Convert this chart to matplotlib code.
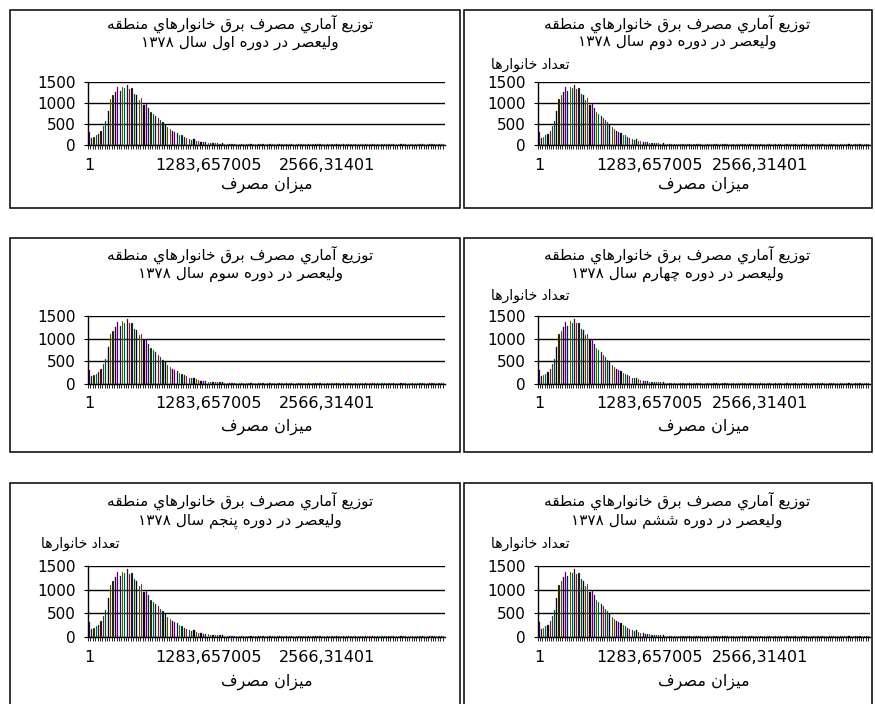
import unicodedata
import numpy as np
import matplotlib
matplotlib.use('Agg')
import matplotlib.pyplot as plt
from matplotlib.patches import Rectangle

# household counts per consumption bin (same shape in every period)
counts = [
    310, 170, 200, 230, 260, 340, 450, 560, 820, 1100,
    1180, 1260, 1370, 1290, 1380, 1350, 1440, 1340, 1350, 1220,
    1190, 1080, 1110, 960, 970, 880, 790, 740, 700, 650,
    600, 540, 480, 430, 380, 340, 310, 290, 250, 230,
    200, 170, 140, 130, 140, 100, 90, 75, 70, 60,
    55, 50, 45, 45, 40, 35, 38, 30, 28, 30,
    25, 27, 22, 24, 20, 26, 18, 22, 19, 23,
    17, 21, 15, 20, 18, 16, 22, 14, 19, 17,
    15, 21, 13, 18, 16, 20, 14, 17, 19, 12,
    18, 15, 20, 13, 17, 16, 19, 12, 18, 14,
    21, 15, 13, 19, 16, 18, 12, 20, 15, 17,
    14, 19, 13, 18, 16, 12, 20, 15, 17, 13,
    19, 14, 16, 18, 12, 17, 15, 20, 13, 16,
    18, 14, 19, 12, 17, 15, 13, 18, 16, 14,
    20, 13, 17, 15, 19, 12, 16, 18, 14, 17,
]
bin_start = 1
bin_width = 25.6531401
label_every = 50
yticks = [0, 500, 1000, 1500]

title_line1 = 'توزيع آماري مصرف برق خانوارهاي منطقه'
periods = ['اول', 'دوم', 'سوم', 'چهارم', 'پنجم', 'ششم']
year = '۱۳۷۸'
ylabel_text = 'تعداد خانوارها'
xlabel_text = 'ميزان مصرف'
show_ylabel = [False, True, False, True, True, True]

bar_colors = ['#FF00FF', '#0066CC', '#FFFF00', '#00FFFF', '#993366', '#FF8080',
              '#9999FF', '#33CC33', '#000080', '#FFCC00', '#CCCCFF', '#660066']


# --- tiny arabic shaper (matplotlib has no complex text layout) ---
forms = {}
for cp in list(range(0xFB50, 0xFDFF)) + list(range(0xFE70, 0xFEFF)):
    d = unicodedata.decomposition(chr(cp))
    if not d.startswith('<'):
        continue
    tag, rest = d.split(' ', 1)
    parts = rest.split()
    if len(parts) != 1:
        continue
    base = chr(int(parts[0], 16))
    forms.setdefault(base, {}).setdefault(tag, chr(cp))


def joins_next(c):
    f = forms.get(c, {})
    return '<initial>' in f or '<medial>' in f


def joins_prev(c):
    return '<final>' in forms.get(c, {})


def fa(text):
    out = []
    for i, c in enumerate(text):
        if c not in forms:
            out.append(c)
            continue
        p = i > 0 and joins_next(text[i-1]) and joins_prev(c)
        n = i < len(text)-1 and joins_next(c) and joins_prev(text[i+1])
        f = forms[c]
        if p and n:
            tag = '<medial>'
        elif p:
            tag = '<final>'
        elif n:
            tag = '<initial>'
        else:
            tag = '<isolated>'
        out.append(f.get(tag, f.get('<isolated>', c)))
    s = ''.join(out)[::-1]
    # keep digit runs left-to-right
    res, run = [], []
    for c in s:
        if c.isdigit():
            run.append(c)
        else:
            res.extend(run[::-1]); run = []
            res.append(c)
    res.extend(run[::-1])
    return ''.join(res)


def cat_label(i):
    v = '%.6f' % (bin_start + i*bin_width)
    v = v.rstrip('0').rstrip('.')
    return v.replace('.', ',')


W, H = 875, 704
fig = plt.figure(figsize=(W/100, H/100), dpi=100)
fam = ['DejaVu Sans']

# pixel layout: columns and rows
cols = [dict(box=(10, 460), ax=(88, 445), tx=240, yl=80),
        dict(box=(464, 872), ax=(538, 870), tx=677, yl=530)]
rows = [dict(box=(10, 208), ax=(82, 145), t=(24, 43), yl=65, xl=185),
        dict(box=(238, 452), ax=(316, 384), t=(255, 275), yl=296, xl=427),
        dict(box=(483, 720), ax=(566, 637), t=(501, 521), yl=544, xl=682)]


def fx(x):
    return x / W


def fy(y):
    return 1 - y / H


n = len(counts)
xs = np.arange(n)
for k in range(6):
    r = rows[k // 2]
    c = cols[k % 2]

    bx0, bx1 = c['box']
    by0, by1 = r['box']
    fig.add_artist(Rectangle((fx(bx0), fy(by1)), fx(bx1 - bx0), (by1 - by0) / H,
                             fill=False, ec='black', lw=1.1, transform=fig.transFigure))

    ax0, ax1 = c['ax']
    ay0, ay1 = r['ax']
    ax = fig.add_axes([fx(ax0), fy(ay1), fx(ax1 - ax0), (ay1 - ay0) / H])
    ax.bar(xs, counts, width=0.5, color='black',
           edgecolor=[bar_colors[i % len(bar_colors)] for i in xs], linewidth=0.25)
    ax.set_xlim(-0.5, n - 0.5)
    ax.set_ylim(0, 1500)
    ax.set_yticks(yticks)
    ax.set_yticklabels([str(v) for v in yticks], family=fam, fontsize=11)
    ax.yaxis.grid(True, color='black', lw=1)
    ax.set_axisbelow(True)
    ax.tick_params(axis='y', length=3, pad=6, color='black')
    ticks = list(range(0, n, label_every))
    ax.set_xticks(ticks)
    ax.set_xticklabels([cat_label(i) for i in ticks], family=fam, fontsize=11.5)
    ax.set_xticks(xs - 0.5, minor=True)
    ax.tick_params(axis='x', which='major', length=0, pad=9)
    ax.tick_params(axis='x', which='minor', length=3, width=0.6)
    for s in ['top', 'right']:
        ax.spines[s].set_visible(False)
    ax.spines['left'].set_linewidth(1)
    ax.spines['bottom'].set_linewidth(1)

    fig.text(fx(c['tx']), fy(r['t'][0]), fa(title_line1), family=fam, fontsize=11,
             ha='center', va='center')
    line2 = 'وليعصر در دوره ' + periods[k] + ' سال ' + year
    fig.text(fx(c['tx']), fy(r['t'][1]), fa(line2), family=fam, fontsize=11,
             ha='center', va='center')
    if show_ylabel[k]:
        fig.text(fx(c['yl']), fy(r['yl']), fa(ylabel_text), family=fam, fontsize=10,
                 ha='center', va='center')
    fig.text(fx((ax0 + ax1) / 2), fy(r['xl']), fa(xlabel_text), family=fam, fontsize=11.5,
             ha='center', va='center')

fig.savefig('out.png', dpi=100)
